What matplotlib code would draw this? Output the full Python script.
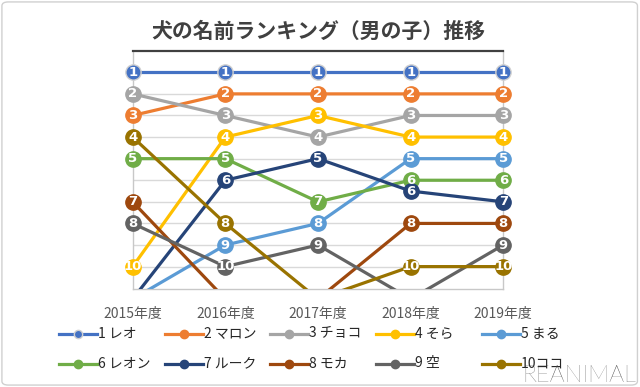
import numpy as np
import matplotlib
matplotlib.use("Agg")
import matplotlib.pyplot as plt
from matplotlib.lines import Line2D
from matplotlib.patches import FancyBboxPatch

plt.rcParams['font.family'] = ['Noto Sans CJK JP', 'DejaVu Sans']

# data (ranks; 11.5 = outside the top 10, drawn below the axis)
years = ['2015年度', '2016年度', '2017年度', '2018年度', '2019年度']
names = ['1 レオ', '2 マロン', '3 チョコ', '4 そら', '5 まる',
         '6 レオン', '7 ルーク', '8 モカ', '9 空', '10ココ']
leo    = [1, 1, 1, 1, 1]
maron  = [3, 2, 2, 2, 2]
choco  = [2, 3, 4, 3, 3]
sora   = [10, 4, 3, 4, 4]
maru   = [11.5, 9, 8, 5, 5]
leon   = [5, 5, 7, 6, 6]
luke   = [11.5, 6, 5, 6.5, 7]
moka   = [7, 11.5, 11.5, 8, 8]
sora2  = [8, 10, 9, 11.5, 9]
koko   = [4, 8, 11.5, 10, 10]
series = [leo, maron, choco, sora, maru, leon, luke, moka, sora2, koko]
colors = ['#4472C4', '#ED7D31', '#A5A5A5', '#FFC000', '#5B9BD5',
          '#70AD47', '#264478', '#9E480E', '#636363', '#997300']

fig = plt.figure(figsize=(6.4, 3.87), dpi=100)
ax = fig.add_axes([0.2073, 0.2525, 0.5791, 0.6165])

x = np.arange(len(years))
for i, (vals, c) in enumerate(zip(series, colors)):
    edge = '#d0d0d0' if i == 0 else c
    vals = np.array(vals, dtype=float)
    ax.plot(x, vals, color=c, lw=2.3, zorder=3 + i)
    shown = vals <= 10
    ax.plot(x[shown], vals[shown], ls='none', marker='o', ms=11, mfc=c,
            mec=edge, mew=1, zorder=3 + i, clip_on=False)
    for xi, v in zip(x[shown], vals[shown]):
        ax.text(xi, v, str(int(v)), color='white', fontsize=9.5,
                fontweight='bold', ha='center', va='center',
                family='DejaVu Sans', zorder=30)

ax.set_xlim(0, 4)
ax.set_ylim(11.05, 0)
ax.set_yticks(range(1, 11))
ax.yaxis.grid(True, color='#d9d9d9', lw=1)
ax.set_axisbelow(True)
ax.tick_params(axis='y', left=False, labelleft=False)
ax.set_xticks(x)
ax.set_xticklabels(years, fontsize=10, color='#595959')
ax.tick_params(axis='x', length=0, pad=13)
for s in ['left', 'right', 'bottom']:
    ax.spines[s].set_color('#c8c8c8')
    ax.spines[s].set_linewidth(1)
ax.spines['top'].set_color('#404040')
ax.spines['top'].set_linewidth(1.6)

fig.text(0.498, 0.918, '犬の名前ランキング（男の子）推移', ha='center', va='center',
         fontsize=15, fontweight='bold', color='#404040')

# legend, two rows of five
W, H = 640, 387
for i, (name, c) in enumerate(zip(names, colors)):
    row, col = divmod(i, 5)
    x0 = 59 + col * 105.7
    y0 = 333.5 + row * 30
    edge = '#d0d0d0' if i == 0 else c
    fig.add_artist(Line2D([x0 / W, (x0 + 38) / W], [1 - y0 / H, 1 - y0 / H],
                          color=c, lw=2.3))
    fig.add_artist(Line2D([(x0 + 19) / W], [1 - y0 / H], color=c, marker='o',
                          ms=6, mfc=c, mec=edge, mew=1, lw=0))
    fig.text((x0 + 39) / W, 1 - y0 / H, name, ha='left', va='center',
             fontsize=10, color='#262626')

fig.text(636 / W, 1 - 376 / H, 'REANIMAL', ha='right', va='center',
         fontsize=17, color='#404040', family='Lato', fontweight='light')

fig.add_artist(FancyBboxPatch((0.003, 0.005), 0.993, 0.99,
                              boxstyle='round,pad=0,rounding_size=0.01',
                              transform=fig.transFigure, fill=False,
                              ec='#d0d0d0', lw=1))

fig.savefig('out.png', dpi=100)
